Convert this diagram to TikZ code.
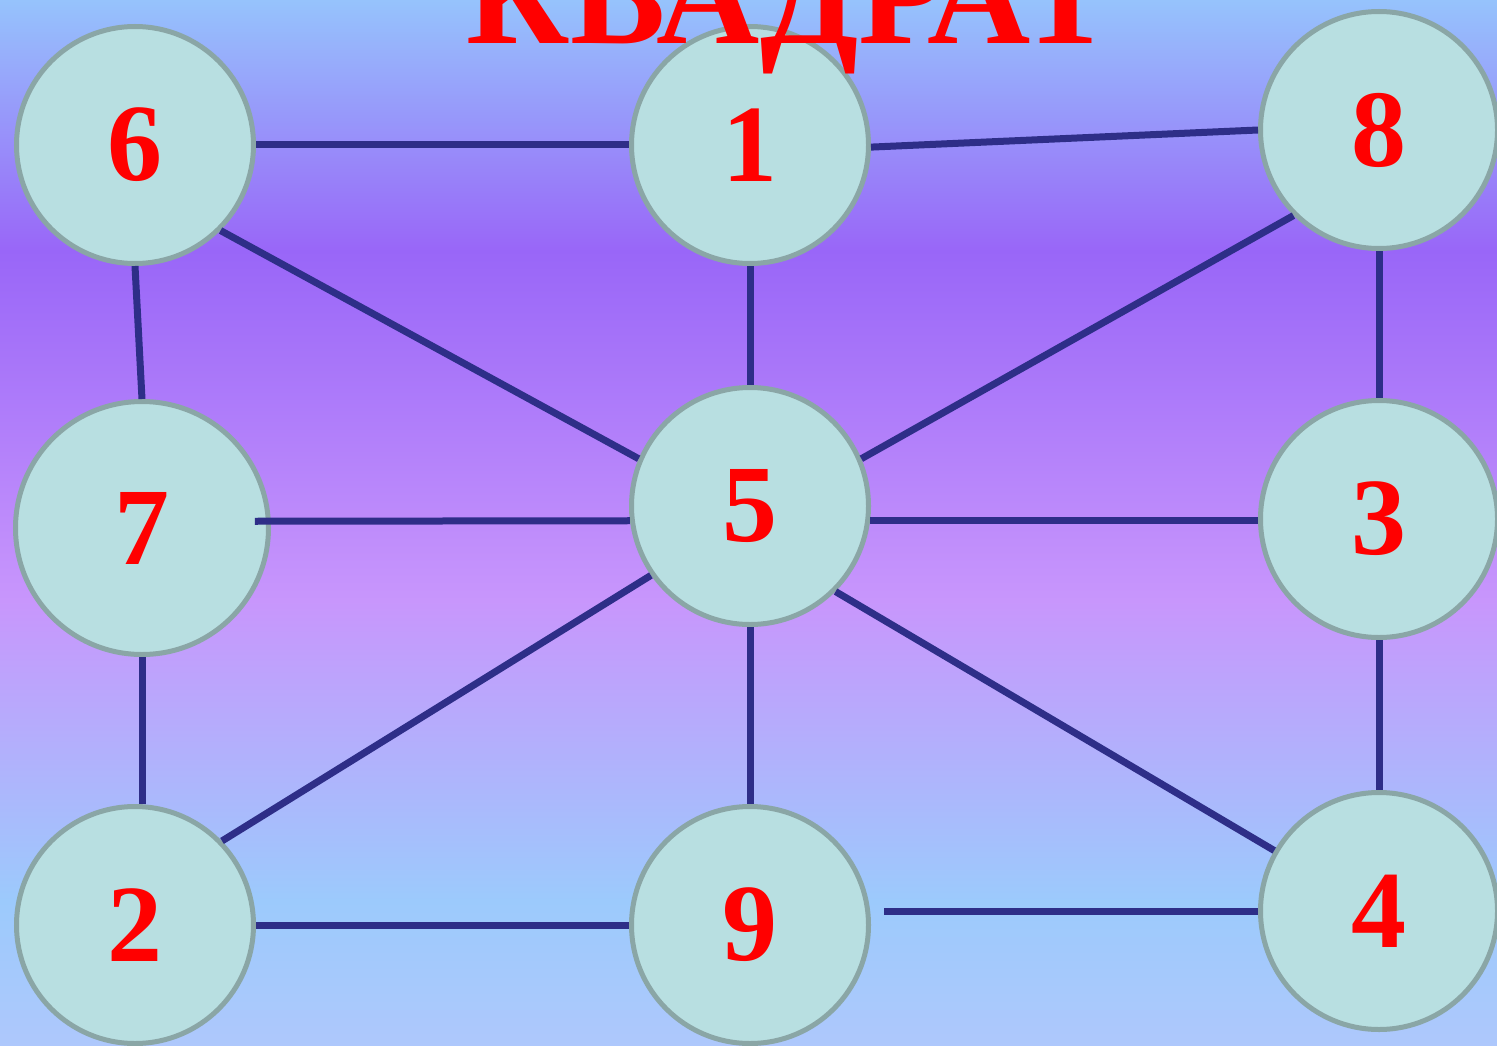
\documentclass[tikz,border=0pt]{standalone}
\usepackage{fontspec}
\setmainfont{Liberation Serif}

\definecolor{nodefill}{HTML}{B8DFE1}
\definecolor{nodeline}{HTML}{8AA6A6}
\definecolor{linkblue}{HTML}{2E2E88}
\definecolor{bgtop}{HTML}{96C3FC}
\definecolor{bgviolet}{HTML}{9966F8}
\definecolor{bglilac}{HTML}{C896FC}
\definecolor{bgsky}{HTML}{9CCAFC}
\definecolor{bgbottom}{HTML}{AEC8FC}

\begin{document}
\begin{tikzpicture}[
		x=1pt, y=-1pt,
		state/.style={circle, draw=nodeline, fill=nodefill, line width=5pt, inner sep=0pt,
			minimum size=237pt, text=red, font=\fontsize{110}{110}\selectfont\bfseries},
		link/.style={draw=linkblue, line width=7pt},
		headline/.style={text=red, font=\fontsize{143}{143}\selectfont\bfseries}
		]
		
		\useasboundingbox (0,0) rectangle (1497,1046);
		\clip (0,0) rectangle (1497,1046);
		
		% Background bands
		\shade[top color=bgtop, bottom color=bgviolet] (0,0) rectangle (1497,251);
		\shade[top color=bgviolet, bottom color=bglilac] (0,250) rectangle (1497,601);
		\shade[top color=bglilac, bottom color=bgsky] (0,600) rectangle (1497,901);
		\shade[top color=bgsky, bottom color=bgbottom] (0,900) rectangle (1497,1046);
		
		% Positions of the nodes
		\node[state] (n6) at (135,145) {6};
		\node[state] (n1) at (750,145) {1};
		\node[state] (n8) at (1379,130) {8};
		\node[state, minimum size=253pt] (n7) at (142,528) {7};
		\node[state] (n5) at (750,506) {5};
		\node[state] (n3) at (1379,519) {3};
		\node[state] (n2) at (135,925) {2};
		\node[state] (n9) at (750,925) {9};
		\node[state] (n4) at (1379,911) {4};
		
		% Outer frame
		\draw[link] (n6) -- (n1);
		\draw[link] (n1.-1) -- (n8.180);
		\draw[link] (n6.south) -- (n7.north);
		\draw[link] (n8.south) -- (n3.north);
		\draw[link] (n7.south) -- (n7.south |- n2.north);
		\draw[link] (n3.south) -- (n4.north);
		\draw[link] (n2) -- (n9);
		\draw[link] ([xshift=13pt]n9.east |- n4.west) -- (n4.west);
		
		% Spokes from the centre
		\draw[link] (n6.-45) -- (n5.157);
		\draw[link] (n1.south) -- (n5.north);
		\draw[link] (n8.225) -- (n5.23);
		\draw[link] ([xshift=-16pt]n7.3) -- (n5.187);
		\draw[link] (n5.-7) -- (n5.-7 -| n3.west);
		\draw[link] (n5.215) -- (n2.44);
		\draw[link] (n5.south) -- (n9.north);
		\draw[link] (n5.-45) -- (n4.150);
		
		% Title
		\node[headline, anchor=base] (title) at (790,44) {КВАДРАТ};
		
	\end{tikzpicture}
\end{document}
